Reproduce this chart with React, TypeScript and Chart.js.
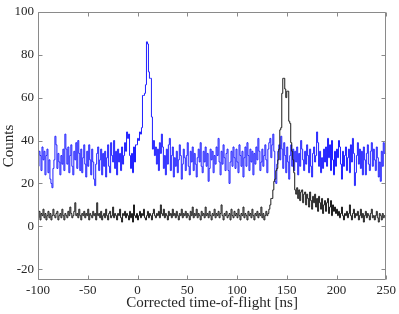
import { useEffect, useRef } from "react";
import { Chart, registerables } from "chart.js";

Chart.register(...registerables);

// Histogram bins: start at -100 ns, 1 ns wide
const binStart = -100;
const binWidth = 1;
const xMin = -100;
const xMax = 250;
const yMin = -25;
const yMax = 100;

const xTickValues = [-100, -50, 0, 50, 100, 150, 200, 250];
const yTickValues = [-20, 0, 20, 40, 60, 80, 100];

const blueCounts = [
  36, 28, 35, 33, 26, 37, 31, 35, 24, 33,
  36, 25, 31, 22, 20, 18, 27, 31, 42, 38,
  27, 34, 30, 24, 33, 29, 36, 26, 43, 36,
  29, 37, 25, 33, 38, 28, 24, 35, 31, 39,
  27, 40, 34, 26, 36, 25, 32, 38, 29, 23,
  35, 28, 38, 31, 24, 36, 30, 22, 19, 29,
  34, 37, 26, 31, 36, 24, 34, 28, 35, 23,
  32, 38, 28, 25, 39, 33, 30, 40, 27, 35,
  24, 36, 30, 34, 26, 37, 29, 33, 39, 35,
  44, 41, 43, 33, 27, 34, 25, 37, 30, 38,
  38, 41, 40, 44, 43, 46, 61, 61, 62, 66,
  86, 85, 72, 69, 69, 51, 36, 40, 33, 37,
  29, 36, 26, 39, 34, 43, 37, 27, 33, 24,
  36, 29, 38, 41, 26, 33, 37, 23, 32, 28,
  35, 25, 31, 38, 33, 22, 29, 36, 32, 26,
  33, 39, 28, 24, 35, 30, 37, 26, 34, 29,
  23, 32, 36, 30, 39, 28, 25, 35, 30, 37,
  28, 34, 21, 27, 36, 31, 35, 25, 33, 29,
  37, 33, 41, 30, 24, 35, 29, 38, 32, 26,
  34, 36, 26, 20, 30, 35, 28, 37, 32, 27,
  36, 30, 25, 38, 33, 28, 35, 23, 32, 37,
  28, 39, 33, 26, 36, 30, 35, 24, 34, 29,
  37, 31, 41, 35, 26, 30, 36, 28, 33, 38,
  31, 25, 36, 39, 41, 32, 38, 43, 35, 21,
  20, 29, 35, 38, 31, 42, 36, 27, 39, 33,
  25, 37, 30, 22, 33, 38, 28, 36, 26, 35,
  30, 37, 24, 34, 28, 40, 36, 31, 26, 35,
  29, 38, 33, 25, 36, 28, 23, 34, 37, 30,
  33, 44, 39, 28, 35, 25, 32, 27, 36, 30,
  37, 28, 41, 32, 38, 26, 40, 31, 24, 35,
  28, 36, 32, 40, 37, 29, 22, 35, 28, 33,
  37, 26, 32, 36, 25, 38, 30, 41, 34, 19,
  25, 33, 39, 29, 36, 27, 35, 24, 37, 31,
  24, 34, 38, 29, 26, 35, 39, 28, 36, 31,
  26, 37, 32, 23, 30, 21, 35, 28, 39, 34,
];

const blackCounts = [
  5, 4, 7, 3, 6, 5, 8, 4, 6, 3,
  5, 7, 4, 6, 3, 5, 8, 5, 4, 6,
  7, 3, 5, 6, 4, 8, 5, 3, 6, 5,
  4, 7, 5, 9, 6, 4, 5, 7, 11, 5,
  6, 4, 8, 5, 3, 6, 5, 7, 4, 6,
  5, 8, 3, 6, 5, 4, 7, 5, 6, 3,
  11, 5, 6, 4, 7, 3, 5, 6, 4, 8,
  5, 3, 6, 7, 4, 5, 9, 4, 6, 5,
  3, 6, 5, 8, 4, 2, 6, 5, 7, 4,
  6, 5, 3, 7, 4, 6, 2, 10, 5, 4,
  6, 3, 5, 7, 4, 6, 5, 8, 4, 3,
  5, 7, 4, 6, 5, 3, 6, 8, 5, 4,
  6, 5, 7, 4, 10, 6, 5, 8, 4, 6,
  5, 3, 7, 5, 6, 4, 8, 5, 6, 4,
  7, 5, 3, 6, 5, 8, 4, 6, 5, 7,
  4, 6, 5, 3, 7, 5, 9, 4, 6, 5,
  8, 4, 6, 5, 3, 7, 5, 6, 4, 9,
  5, 6, 4, 7, 5, 3, 6, 5, 8, 4,
  6, 5, 7, 4, 6, 10, 5, 3, 6, 5,
  7, 4, 5, 6, 3, 8, 5, 4, 7, 5,
  6, 4, 8, 5, 3, 6, 5, 9, 4, 6,
  5, 3, 7, 5, 6, 4, 8, 5, 3, 6,
  5, 7, 4, 6, 5, 9, 4, 6, 3, 5,
  7, 5, 6, 8, 10, 13, 13, 17, 21, 22,
  26, 27, 31, 36, 45, 46, 62, 69, 69, 64,
  60, 63, 63, 49, 48, 39, 35, 31, 25, 17,
  15, 18, 13, 17, 12, 16, 17, 11, 15, 16,
  10, 15, 13, 9, 16, 12, 8, 14, 11, 15,
  9, 13, 7, 14, 11, 8, 13, 6, 10, 12,
  7, 11, 13, 6, 9, 12, 5, 10, 7, 9,
  6, 8, 5, 7, 4, 6, 9, 5, 3, 6,
  5, 7, 4, 6, 10, 5, 3, 6, 8, 4,
  6, 5, 7, 3, 5, 8, 4, 6, 2, 5,
  7, 4, 6, 5, 3, 6, 8, 4, 5, 3,
  5, 7, 4, 2, 6, 5, 3, 6, 4, 5,
];

function toSteps(values: number[]) {
  const pts = values.map((v, i) => ({ x: binStart + i * binWidth, y: v }));
  pts.push({ x: binStart + values.length * binWidth, y: values[values.length - 1] });
  return pts;
}

const framePlugin = {
  id: "frameTicks",
  afterDatasetsDraw(chart: any) {
    const { ctx, chartArea, scales } = chart;
    const { left, right, top, bottom } = chartArea;
    const x = scales.x;
    const y = scales.y;
    const L = Math.round(left) + 0.5;
    const R = Math.round(right) - 0.5;
    const T = Math.round(top) + 0.5;
    const B = Math.round(bottom) - 0.5;
    const len = 4;
    ctx.save();
    ctx.strokeStyle = "#8a8a8a";
    ctx.lineWidth = 1;
    ctx.beginPath();
    ctx.rect(L, T, R - L, B - T);
    for (const v of xTickValues) {
      const px = Math.round(x.getPixelForValue(v)) + 0.5;
      ctx.moveTo(px, B);
      ctx.lineTo(px, B - len);
      ctx.moveTo(px, T);
      ctx.lineTo(px, T + len);
    }
    for (const v of yTickValues) {
      const py = Math.round(y.getPixelForValue(v)) + 0.5;
      ctx.moveTo(L, py);
      ctx.lineTo(L + len, py);
      ctx.moveTo(R, py);
      ctx.lineTo(R - len, py);
    }
    ctx.stroke();
    ctx.restore();
  },
};

export default function App() {
  const ref = useRef<HTMLCanvasElement | null>(null);
  useEffect(() => {
    if (!ref.current) return;
    const font = "'Liberation Serif', 'Times New Roman', serif";
    const chart = new Chart(ref.current, {
      type: "line",
      data: {
        datasets: [
          {
            label: "black",
            data: toSteps(blackCounts),
            borderColor: "#1c1c1c",
            borderWidth: 1,
            stepped: "after",
            pointRadius: 0,
            fill: false,
          },
          {
            label: "blue",
            data: toSteps(blueCounts),
            borderColor: "#1f1fff",
            borderWidth: 1,
            stepped: "after",
            pointRadius: 0,
            fill: false,
          },
        ],
      },
      plugins: [framePlugin],
      options: {
        animation: false,
        responsive: false,
        devicePixelRatio: 1,
        layout: { padding: { left: 0, right: 10, top: 5, bottom: 0 } },
        plugins: {
          legend: { display: false },
          tooltip: { enabled: false },
        },
        scales: {
          x: {
            type: "linear",
            min: xMin,
            max: xMax,
            grid: { display: false, drawTicks: false },
            border: { display: false },
            afterBuildTicks: (s: any) => {
              s.ticks = xTickValues.map((v) => ({ value: v }));
            },
            afterFit: (s: any) => {
              s.height = 34;
            },
            ticks: {
              color: "#262626",
              font: { family: font, size: 13 },
              padding: 3,
              maxRotation: 0,
            },
            title: {
              display: true,
              text: "Corrected time-of-flight [ns]",
              color: "#262626",
              font: { family: font, size: 15 },
              padding: { top: 0, bottom: 2 },
            },
          },
          y: {
            type: "linear",
            min: yMin,
            max: yMax,
            grid: { display: false, drawTicks: false },
            border: { display: false },
            afterBuildTicks: (s: any) => {
              s.ticks = yTickValues.map((v) => ({ value: v }));
            },
            afterFit: (s: any) => {
              s.width = 38;
            },
            ticks: {
              color: "#262626",
              font: { family: font, size: 13 },
              padding: 4,
            },
            title: {
              display: true,
              text: "Counts",
              color: "#262626",
              font: { family: font, size: 15 },
              padding: { top: 0, bottom: 0 },
            },
          },
        },
      },
    });
    return () => chart.destroy();
  }, []);
  return (
    <div style={{ position: "absolute", left: 0, top: 0, width: 399, height: 314, background: "#fff" }}>
      <canvas ref={ref} width={399} height={314} style={{ width: 399, height: 314 }} />
    </div>
  );
}
